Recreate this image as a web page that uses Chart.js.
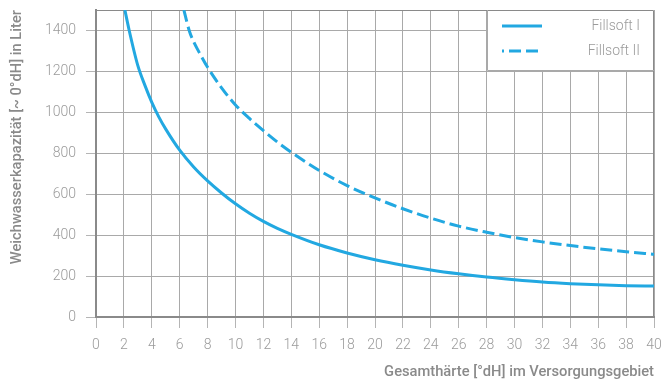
<!DOCTYPE html>
<html>
<head>
<meta charset="utf-8">
<script src="https://cdn.jsdelivr.net/npm/chart.js@4"></script>
<style>
  html, body { margin: 0; padding: 0; background: #fff; }
  #wrap { width: 662px; height: 385px; position: relative; }
</style>
</head>
<body>
<div id="wrap"><canvas id="chart"></canvas></div>
<script>
// Weichwasserkapazität vs. Gesamthärte
const hardnessI  = [2.07, 2.38, 3, 3.5, 4, 4.5, 5, 6, 7, 8, 9, 10, 11, 12, 13, 14, 16, 18, 20, 22, 24, 26, 28, 30, 32, 34, 36, 38, 40];
const capacityI  = [1500, 1400, 1228, 1133, 1049, 978, 918, 815, 733, 665, 606, 553, 507, 467, 433, 404, 353, 313, 280, 253, 230, 211, 195, 182, 171, 163, 157, 153, 151];
const hardnessII = [6.3, 6.68, 7, 7.5, 8, 9, 10, 11, 12, 13, 14, 16, 18, 20, 22, 24, 26, 28, 30, 32, 34, 36, 38, 40];
const capacityII = [1500, 1400, 1345, 1280, 1220, 1120, 1036, 970, 911, 855, 805, 716, 642, 582, 529, 483, 444, 414, 388, 367, 349, 333, 319, 306];
const seriesLabels = ['Fillsoft I', 'Fillsoft II'];

const BLUE = '#22a8e1';
const TICK = '#9b9b9b';
const GRID = '#a9a9a9';
const AXIS = '#8a8a8a';
const FONT = 'Roboto';

const toPoints = (xs, ys) => xs.map((x, i) => ({x, y: ys[i]}));

// top + right frame of the plot area
const frame = {
  id: 'frame',
  beforeDatasetsDraw(chart) {
    const {ctx, chartArea: a} = chart;
    ctx.save();
    ctx.strokeStyle = AXIS;
    ctx.lineWidth = 1;
    ctx.beginPath();
    ctx.moveTo(a.left, a.top + 0.5);
    ctx.lineTo(a.right - 0.5, a.top + 0.5);
    ctx.lineTo(a.right - 0.5, a.bottom);
    ctx.stroke();
    ctx.restore();
  }
};

// legend box in the top right corner of the plot
const legendBox = {
  id: 'legendBox',
  afterDatasetsDraw(chart) {
    const {ctx, chartArea: a} = chart;
    const x0 = Math.round(a.right) - 167, y0 = Math.round(a.top), h = 60;
    ctx.save();
    ctx.fillStyle = '#fff';
    ctx.fillRect(x0, y0 + 1, a.right - x0 - 1, h - 1);
    ctx.strokeStyle = GRID;
    ctx.lineWidth = 1;
    ctx.beginPath();
    ctx.moveTo(x0 + 0.5, y0);
    ctx.lineTo(x0 + 0.5, y0 + h + 0.5);
    ctx.lineTo(a.right, y0 + h + 0.5);
    ctx.stroke();
    chart.data.datasets.forEach((ds, i) => {
      const y = y0 + 16 + i * 25;
      ctx.strokeStyle = ds.borderColor;
      ctx.lineWidth = 3;
      ctx.setLineDash(ds.borderDash || []);
      ctx.lineDashOffset = 10;
      ctx.beginPath();
      ctx.moveTo(x0 + 15, y);
      ctx.lineTo(x0 + 55, y);
      ctx.stroke();
      ctx.setLineDash([]);
      ctx.fillStyle = TICK;
      ctx.font = `300 14px ${FONT}`;
      ctx.textAlign = 'right';
      ctx.textBaseline = 'middle';
      ctx.fillText(ds.label, a.right - 14, y);
    });
    ctx.restore();
  }
};

new Chart(document.getElementById('chart').getContext('2d'), {
  type: 'line',
  data: {
    datasets: [
      {
        label: seriesLabels[0],
        data: toPoints(hardnessI, capacityI),
        borderColor: BLUE,
        borderWidth: 3,
        pointRadius: 0,
        cubicInterpolationMode: 'monotone',
        fill: false
      },
      {
        label: seriesLabels[1],
        data: toPoints(hardnessII, capacityII),
        borderColor: BLUE,
        borderWidth: 3,
        borderDash: [12, 5],
        pointRadius: 0,
        cubicInterpolationMode: 'monotone',
        fill: false
      }
    ]
  },
  options: {
    responsive: true, maintainAspectRatio: false,
    animation: false,
    layout: {padding: {top: 10, right: 8, left: 0, bottom: 0}},
    plugins: {legend: {display: false}, tooltip: {enabled: false}},
    scales: {
      x: {
        type: 'linear', min: 0, max: 40,
        ticks: {stepSize: 2, autoSkip: false, maxRotation: 0, color: TICK, padding: 9, font: {family: FONT, size: 14, weight: '300'}},
        grid: {color: GRID, lineWidth: 1, tickLength: 11, tickColor: '#b5b5b5'},
        border: {color: AXIS, width: 2},
        title: {display: true, text: 'Gesamthärte [°dH] im Versorgungsgebiet', align: 'end', color: AXIS,
                font: {family: FONT, size: 14.7, weight: '500'}, padding: {top: 0, bottom: 4}},
        afterFit: s => { s.height = 68; s.paddingLeft = 0; s.paddingRight = 0; }
      },
      y: {
        min: 0, max: 1500,
        ticks: {stepSize: 200, includeBounds: false, color: TICK, padding: 10, font: {family: FONT, size: 14, weight: '300'},
                callback: v => String(v)},
        grid: {color: GRID, lineWidth: 1, tickLength: 10, tickColor: '#b5b5b5'},
        border: {color: AXIS, width: 2},
        title: {display: true, text: 'Weichwasserkapazität [~ 0°dH] in Liter', align: 'end', color: AXIS,
                font: {family: FONT, size: 14.7, weight: '500'}, padding: {top: 9, bottom: 0}},
        afterFit: s => { s.width = 96; s.paddingTop = 0; s.paddingBottom = 0; }
      }
    }
  },
  plugins: [frame, legendBox]
});
</script>
</body>
</html>
